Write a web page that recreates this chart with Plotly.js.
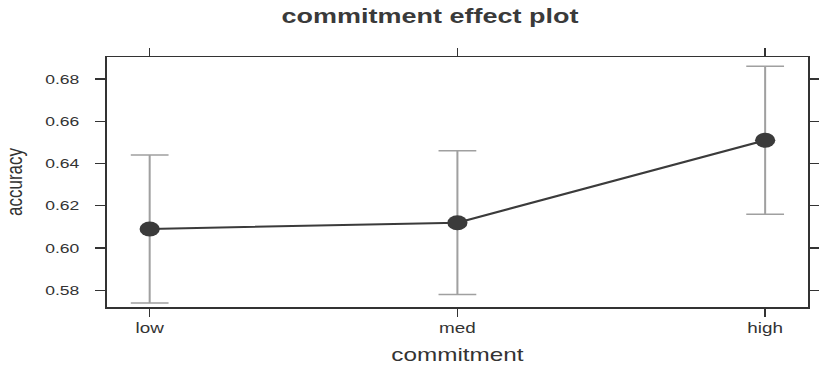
<!DOCTYPE html>
<html>
<head>
<meta charset="utf-8">
<script src="https://cdn.plot.ly/plotly-3.0.1.min.js"></script>
<style>
  html, body { margin: 0; padding: 0; background: #fff; overflow: hidden; }
  /* the figure is laid out narrow and widened horizontally, giving the wide lettering */
  #wrap { width: 819px; height: 366px; overflow: hidden; }
  #chart { width: 607px; height: 366px; transform: scaleX(1.3493); transform-origin: 0 0; }
</style>
</head>
<body>
<div id="wrap"><div id="chart"></div></div>
<script>
// effect of commitment level on accuracy, with confidence limits
const commitment = ['low', 'med', 'high'];
const accuracy   = [0.609, 0.612, 0.651];
const lowerLimit = [0.574, 0.578, 0.616];
const upperLimit = [0.644, 0.646, 0.686];
const yTicks     = [0.58, 0.60, 0.62, 0.64, 0.66, 0.68];

const upErr   = accuracy.map((v, i) => upperLimit[i] - v);
const downErr = accuracy.map((v, i) => v - lowerLimit[i]);

const dark = '#3b3b3b';
const font = 'Liberation Sans, Arial, Helvetica, sans-serif';

const trace = {
  type: 'scatter',
  mode: 'lines+markers',
  x: commitment,
  y: accuracy,
  line: { color: dark, width: 2 },
  marker: { color: dark, size: 15 },
  error_y: {
    type: 'data',
    symmetric: false,
    array: upErr,
    arrayminus: downErr,
    color: '#a0a0a0',
    thickness: 1.5,
    width: 14
  },
  hoverinfo: 'x+y'
};

const layout = {
  width: 607,
  height: 366,
  margin: { l: 79, r: 8, t: 57, b: 59 },
  paper_bgcolor: '#ffffff',
  plot_bgcolor: '#ffffff',
  showlegend: false,
  font: { family: font, color: '#333333' },
  title: {
    text: 'commitment effect plot',
    font: { family: font, size: 20, weight: 700, color: '#3a3a3a' },
    xref: 'container', x: 0.525, xanchor: 'center',
    yref: 'container', y: 0.956, yanchor: 'middle'
  },
  xaxis: {
    type: 'category',
    categoryorder: 'array',
    categoryarray: commitment,
    range: [-0.14, 2.14],
    showgrid: false, zeroline: false,
    showline: true, linecolor: '#333333', linewidth: 1.5,
    mirror: 'ticks',
    ticks: 'outside', ticklen: 8, tickwidth: 1, tickcolor: '#333333',
    tickfont: { family: font, size: 14, color: '#333333' },
    title: { text: 'commitment', font: { family: font, size: 18, color: '#333333' }, standoff: 13 }
  },
  yaxis: {
    range: [0.5721, 0.6904],
    tickvals: yTicks,
    tickformat: '.2f',
    showgrid: false, zeroline: false,
    showline: true, linecolor: '#333333', linewidth: 1.2,
    mirror: 'ticks',
    ticks: 'outside', ticklen: 7.4, tickwidth: 1.3, tickcolor: '#333333',
    ticklabelstandoff: 9,
    tickfont: { family: font, size: 13, color: '#333333' },
    title: { text: 'accuracy', font: { family: font, size: 17, color: '#333333' }, standoff: 12 }
  }
};

Plotly.newPlot('chart', [trace], layout, { displayModeBar: false, staticPlot: true });
</script>
</body>
</html>
